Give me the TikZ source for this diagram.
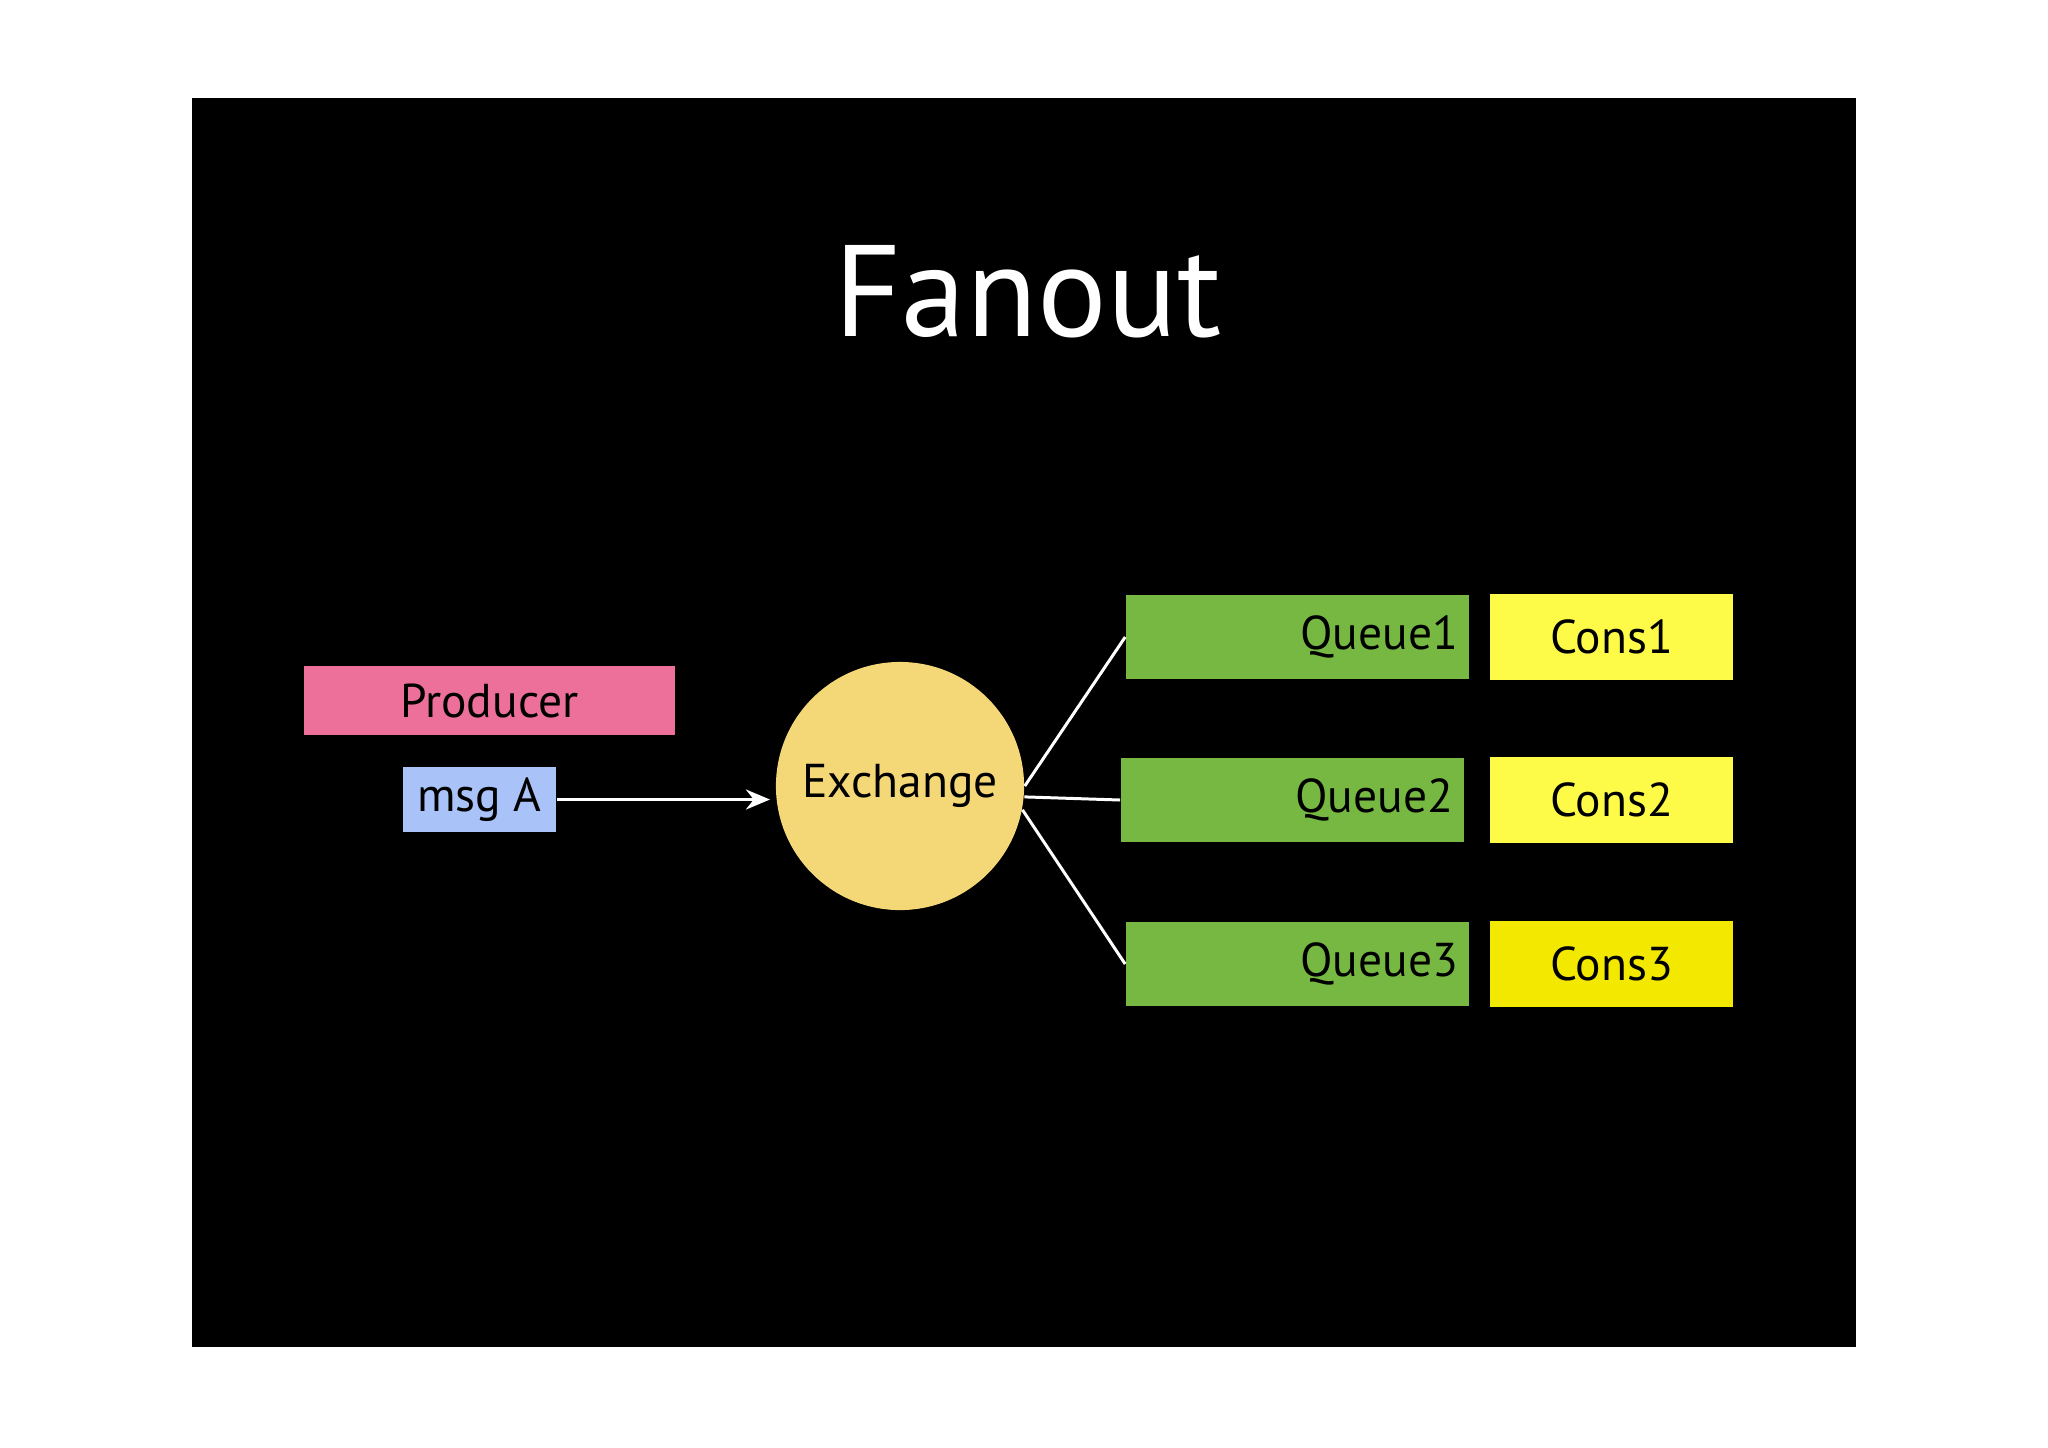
\documentclass[tikz,border=0pt]{standalone}
\usepackage{fontspec}
\setmainfont{PT Sans}
\usepackage{xcolor}
\usepackage{tikz}
\usetikzlibrary{calc, positioning, arrows.meta}

\definecolor{prodpink}{HTML}{EC7099}
\definecolor{msgblue}{HTML}{A9C3F9}
\definecolor{exgold}{HTML}{F4D777}
\definecolor{queuegreen}{HTML}{77B843}
\definecolor{consyellow}{HTML}{FDFB48}
\definecolor{consdark}{HTML}{F2E800}

\tikzset{
  box/.style={rectangle, inner sep=0pt, text=black, font=\fontsize{13.5}{16}\selectfont},
  queuebox/.style={box, fill=queuegreen, minimum width=3.43cm, minimum height=0.84cm,
    text width=3.21cm, align=right},
  consbox/.style={box, fill=consyellow, minimum width=2.43cm, minimum height=0.85cm},
  wire/.style={white, line width=.85pt},
}

\begin{document}
\begin{tikzpicture}
              [x=0.01cm, y=-0.01cm, node distance=3.14cm, >={Stealth[length=2.4mm, width=2mm]}]
              \useasboundingbox (0,0) rectangle (2048,1447);
              \fill[black] (192,98) rectangle (1856,1347);

              % nodes %
              \node[anchor=base, text=white, font=\fontsize{37}{44}\selectfont] (title) at (1028,336) {Fanout};
              \node[box, fill=prodpink, minimum width=3.71cm, minimum height=0.69cm] (prod) at (489.5,700.5) {Producer};
              \node[box, fill=msgblue, minimum width=1.53cm, minimum height=0.65cm] (msg) at (479.5,799.5) {msg A};
              \node[circle, fill=exgold, minimum size=2.48cm, inner sep=0pt, font=\fontsize{13.5}{16}\selectfont] (ex) at (900,786) {Exchange};

              \node[queuebox] (q1) at (1297.5,637) {Queue1};
              \node[queuebox] (q2) at (1292.5,800) {Queue2};
              \node[queuebox] (q3) at (1297.5,964) {Queue3};
              \node[consbox, right of = q1] (c1) {Cons1};
              \node[consbox, right of = q2, node distance=3.19cm] (c2) {Cons2};
              \node[consbox, right of = q3, fill=consdark] (c3) {Cons3};

              % edges %
              \draw[->, wire, shorten >=1.5pt] (msg.east) -- (msg.east -| ex.west);
              \draw[wire] (ex.0) -- (q1.west);
              \draw[wire] (ex.-5) -- (q2.west);
              \draw[wire] (ex.-11) -- (q3.west);
            \end{tikzpicture}
\end{document}
